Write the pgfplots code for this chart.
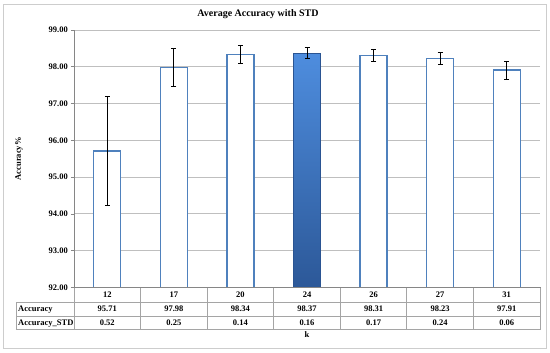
\documentclass[border=0pt]{standalone}
\usepackage{pgfplots}
\pgfplotsset{compat=1.18}
\usepackage{fontspec}
\setmainfont{Liberation Serif}
\definecolor{barblue}{RGB}{79,129,189}
\definecolor{topblue}{RGB}{78,141,222}
\definecolor{botblue}{RGB}{44,88,152}
\definecolor{edgeblue}{RGB}{42,84,146}
\definecolor{gridgray}{RGB}{191,191,191}
\definecolor{axisgray}{RGB}{134,134,134}
\definecolor{tablegray}{RGB}{165,165,165}
\definecolor{framegray}{RGB}{205,205,205}
\newcommand\chartfont{\bfseries\fontsize{8.5bp}{13.7bp}\selectfont}
\begin{document}
\begin{tikzpicture}
\begin{axis}[
  name=ax, at={(0bp,0bp)}, anchor=south west, scale only axis,
  width=466bp, height=257.5bp,
  xmin=-0.5, xmax=6.5, ymin=92, ymax=99,
  ytick={92,93,94,95,96,97,98,99},
  xtick={0,1,2,3,4,5,6},
  xticklabels={{12\\95.71\\0.52},{17\\97.98\\0.25},{20\\98.34\\0.14},{24\\98.37\\0.16},{26\\98.31\\0.17},{27\\98.23\\0.24},{31\\97.91\\0.06}},
  xticklabel style={font=\chartfont, align=center, anchor=north, inner sep=0pt, yshift=-4.3bp},
  major x tick style={draw=none},
  yticklabel style={font=\chartfont, inner sep=0pt, xshift=-3bp},
  /pgf/number format/.cd, fixed, fixed zerofill, precision=2, assume math mode=true,
  /pgfplots/.cd,
  ytick align=outside, major tick length=3bp, ytick pos=left, xtick pos=bottom,
  major y tick style={axisgray, line width=0.8bp},
  axis line style={draw=none},
  ymajorgrids, grid style={gridgray, line width=0.9bp},
  xlabel={k}, ylabel={Accuracy\%},
  every axis x label/.style={at={(rel axis cs:0.5,0)}, anchor=base, yshift=-49.5bp, font=\chartfont},
  every axis y label/.style={at={(rel axis cs:-0.118,0.5)}, anchor=center, rotate=90, font=\chartfont},
]
\addplot[ybar, bar width=27bp, bar shift=0pt, draw=barblue, line width=1.4bp, fill=white,
  error bars/.cd, y dir=both, y explicit,
  error bar style={black, line width=0.9bp},
  error mark options={rotate=90, mark size=2.5bp, black, line width=0.9bp}]
  coordinates {(0,95.71) +- (0,1.48) (1,97.98) +- (0,0.52) (2,98.34) +- (0,0.25)
               (4,98.31) +- (0,0.17) (5,98.23) +- (0,0.17) (6,97.91) +- (0,0.245)};
% highlighted bar k=24 (value 98.37), drawn as a shaded bar of the same width
\addplot[draw=edgeblue, line width=1bp, top color=topblue, bottom color=botblue]
  coordinates {(2.797,92) (2.797,98.37) (3.203,98.37) (3.203,92)} -- cycle;
\addplot[draw=none, mark=none,
  error bars/.cd, y dir=both, y explicit,
  error bar style={black, line width=0.9bp},
  error mark options={rotate=90, mark size=2.5bp, black, line width=0.9bp}]
  coordinates {(3,98.37) +- (0,0.155)};
\end{axis}
\begin{scope}[shift={(ax.south west)}, x=1bp, y=1bp]
\path (-74,-64.5) rectangle (476,287.5);
\draw[framegray, line width=1bp] (-70,-60.5) rectangle (472,283.5);
% axis lines
\draw[axisgray, line width=0.8bp] (0,257.5) -- (0,0) -- (466.5,0);
% data table grid
\begin{scope}[tablegray, line width=0.8bp]
\draw (-58,-15) -- (466.5,-15);
\draw (-58,-28.5) -- (466.5,-28.5);
\draw (-58,-42) -- (466.5,-42);
\draw (-58,-15) -- (-58,-42);
\draw (0,0) -- (0,-42);
\foreach \i in {1,...,7} {\draw (66.571*\i,0) -- (66.571*\i,-42);}
\end{scope}
\node[anchor=base west, font=\chartfont, inner sep=0pt] at (-56,-24) {Accuracy};
\node[anchor=base west, font=\chartfont, inner sep=0pt] at (-56,-37.7) {Accuracy\_STD};
\node[anchor=base, font=\bfseries\fontsize{10bp}{12bp}\selectfont, inner sep=0pt] at (184,271) {Average Accuracy with STD};
\end{scope}
\end{tikzpicture}
\end{document}
